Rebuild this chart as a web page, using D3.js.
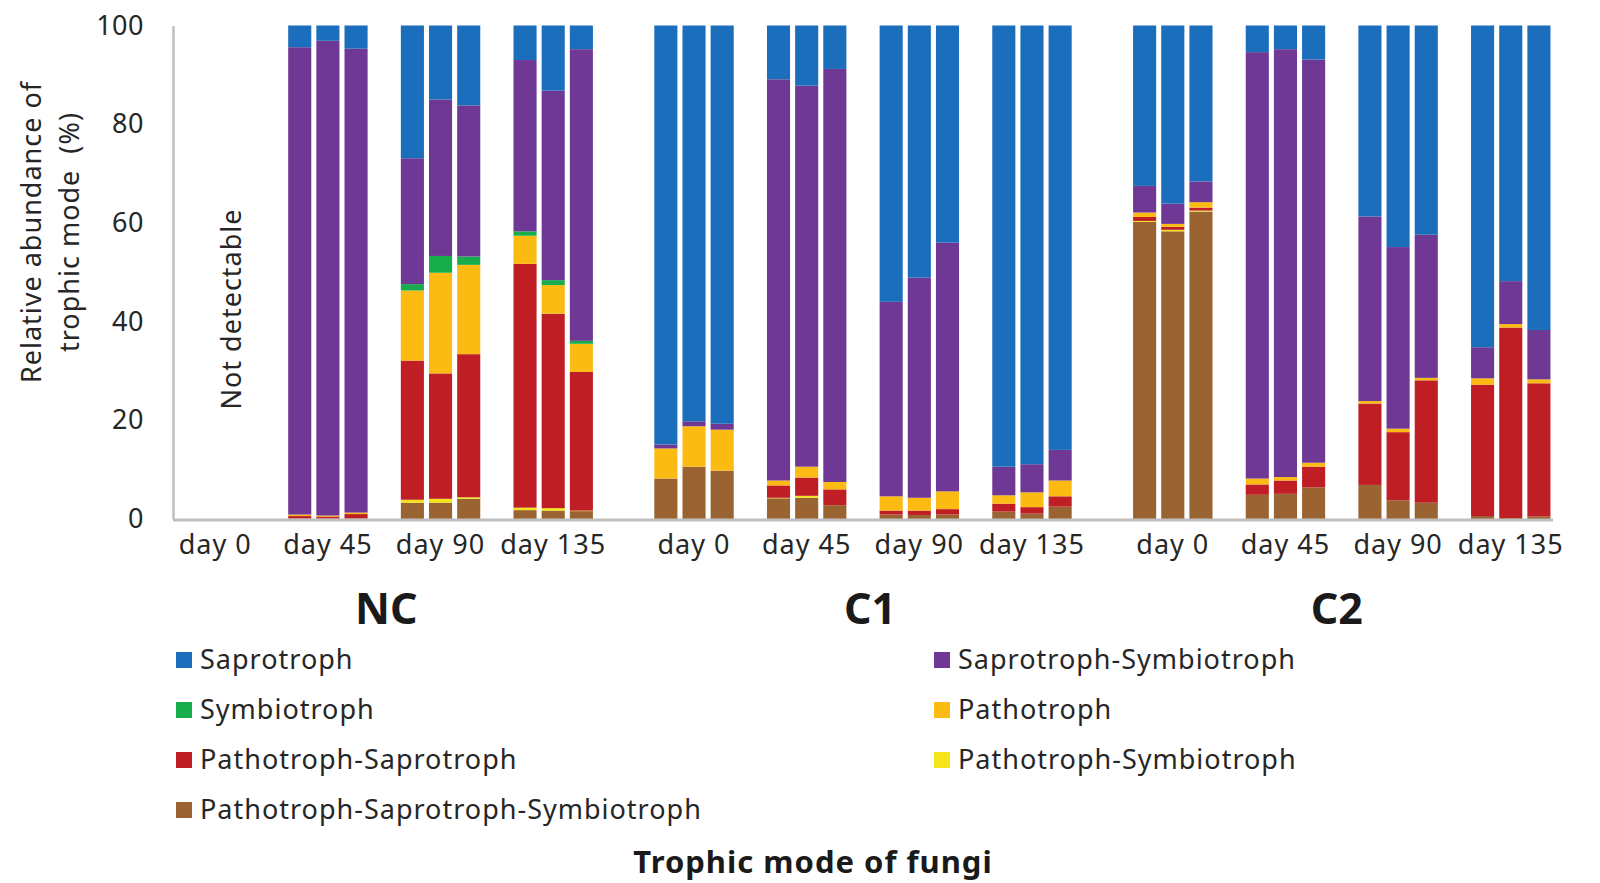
<!DOCTYPE html>
<html><head><meta charset="utf-8">
<script src="https://cdn.jsdelivr.net/npm/d3@7"></script>
<style>body{margin:0;background:#fff}svg{display:block}text{font-family:"Noto Sans",sans-serif;white-space:pre}</style>
</head><body><svg id="c" width="1600" height="883"></svg>
<script>
const groups = ["NC", "C1", "C2"];
const days = ["day 0", "day 45", "day 90", "day 135"];
const replicates = [1, 2, 3];
const seriesNames = ["Pathotroph-Saprotroph-Symbiotroph", "Pathotroph-Symbiotroph", "Pathotroph-Saprotroph", "Pathotroph", "Symbiotroph", "Saprotroph-Symbiotroph", "Saprotroph"];
const legendOrder = ["Saprotroph", "Saprotroph-Symbiotroph", "Symbiotroph", "Pathotroph", "Pathotroph-Saprotroph", "Pathotroph-Symbiotroph", "Pathotroph-Saprotroph-Symbiotroph"];
const colors = ["#996431", "#f3e51a", "#c01e25", "#fbbb12", "#17ad4d", "#6e3894", "#1b6ebb"];
const yTicks = [0, 20, 40, 60, 80, 100];
// values per column: NC d0,d45,d90,d135 | C1 ... | C2 ... , 3 replicates each (null = not detectable)
const pss = [null,null,null, 0.1,0.1,0.1, 3.3,3.3,4.1, 1.8,1.7,1.6,  8.2,10.6,9.8, 4.2,4.3,2.8, 0.9,0.8,0.9, 1.5,1.1,2.5,  60.2,58.3,62.3, 4.9,5.1,6.4, 6.9,3.8,3.3, 0.6,0.2,0.5];
const psym = [null,null,null, 0,0,0, 0.6,0.8,0.3, 0.5,0.5,0.1,  0,0,0, 0.1,0.4,0, 0,0,0, 0,0,0,  0.2,0.3,0.2, 0,0,0, 0,0,0, 0,0,0];
const psap = [null,null,null, 0.5,0.4,0.9, 28.2,25.4,29.0, 49.4,39.4,28.1,  0,0,0, 2.5,3.7,3.2, 0.8,0.9,1.1, 1.6,1.3,2.1,  0.8,0.6,0.6, 2.1,2.7,4.2, 16.5,13.8,24.8, 26.6,38.6,27.0];
const patho = [null,null,null, 0.3,0.2,0.3, 14.2,20.4,18.1, 5.7,5.8,5.7,  6.1,8.2,8.3, 1.0,2.2,1.5, 2.9,2.6,3.6, 1.7,3.0,3.2,  0.9,0.6,1.1, 1.2,0.7,0.8, 0.5,0.7,0.5, 1.3,0.7,0.8];
const symb = [null,null,null, 0,0,0, 1.3,3.4,1.7, 0.9,1.0,0.6,  0,0,0, 0,0,0, 0,0,0, 0,0,0,  0,0,0, 0,0,0, 0,0,0, 0,0,0];
const sapsym = [null,null,null, 94.7,96.2,94.0, 25.5,31.7,30.6, 34.7,38.4,59.1,  0.8,1.0,1.2, 81.3,77.2,83.7, 39.4,44.6,50.4, 5.8,5.7,6.2,  5.4,4.1,4.2, 86.4,86.7,81.7, 37.4,36.8,29.0, 6.3,8.7,10.0];
const sapro = [null,null,null, 4.4,3.1,4.7, 26.9,15.0,16.2, 7.0,13.2,4.8,  84.9,80.2,80.7, 10.9,12.2,8.8, 56.0,51.1,44.0, 89.4,88.9,86.0,  32.5,36.1,31.6, 5.4,4.8,6.9, 38.7,44.9,42.4, 65.2,51.8,61.7];
const seriesValues = [pss, psym, psap, patho, symb, sapsym, sapro];

const rows = [];
groups.forEach((g, gi) => days.forEach((d, di) => replicates.forEach((r, ri) => {
  const idx = gi * 12 + di * 3 + ri;
  const row = {group: g, day: d, rep: r, slot: gi * 17 + di * 4 + ri, empty: pss[idx] === null};
  seriesNames.forEach((s, si) => row[s] = seriesValues[si][idx] || 0);
  rows.push(row);
})));

const svg = d3.select("#c");
const x = d3.scaleBand().domain(d3.range(49)).range([173, 1553]).paddingInner(0.18).paddingOuter(0.09);
const y = d3.scaleLinear().domain([0, 100]).range([519, 25.5]);
const color = d3.scaleOrdinal().domain(seriesNames).range(colors);

const stacked = d3.stack().keys(seriesNames)(rows.filter(r => !r.empty));
svg.append("g").selectAll("g").data(stacked).join("g").attr("fill", d => color(d.key))
  .selectAll("rect").data(d => d).join("rect")
  .attr("x", d => x(d.data.slot)).attr("width", x.bandwidth())
  .attr("y", d => y(d[1])).attr("height", d => Math.max(0, y(d[0]) - y(d[1])));

// axes
const yAxis = svg.append("g").attr("transform", "translate(173,0)")
  .call(d3.axisLeft(y).tickValues(yTicks).tickSize(0).tickPadding(29));
yAxis.select(".domain").attr("stroke", "#bfbfbf").attr("stroke-width", 2.5);
yAxis.selectAll("text").attr("font-size", 27).attr("fill", "#262626").attr("font-family", "Noto Sans").attr("letter-spacing", 0.5);

const xAxis = svg.append("g").attr("transform", "translate(0,520)");
xAxis.append("line").attr("x1", 173).attr("x2", 1553).attr("stroke", "#bfbfbf").attr("stroke-width", 3);
groups.forEach((g, gi) => days.forEach((d, di) => {
  const s = gi * 17 + di * 4 + 1;
  xAxis.append("text").attr("x", x(s) + x.bandwidth() / 2).attr("y", 34)
    .attr("text-anchor", "middle").attr("font-size", 27).attr("letter-spacing", 1).attr("fill", "#262626").text(d);
}));
const groupShift = [2, 7, -5];
groups.forEach((g, gi) => {
  const cx = (x(gi * 17) + x(gi * 17 + 14) + x.bandwidth()) / 2 + groupShift[gi];
  svg.append("text").attr("x", cx).attr("y", 624).attr("text-anchor", "middle")
    .attr("font-size", 43).attr("font-weight", "bold").attr("fill", "#1a1a1a").text(g);
});

// Not detectable
svg.append("text").attr("transform", `translate(${x(1) + x.bandwidth()/2 + 26},309) rotate(-90)`)
  .attr("text-anchor", "middle").attr("font-size", 27).attr("letter-spacing", 1).attr("fill", "#262626").text("Not detectable");

// y title
const yt = svg.append("text").attr("transform", "translate(0,232) rotate(-90)").attr("text-anchor", "middle")
  .attr("font-size", 27).attr("letter-spacing", 1).attr("fill", "#262626");
yt.append("tspan").attr("x", 0).attr("y", 41).text("Relative abundance of");
yt.append("tspan").attr("x", 0).attr("y", 79).text("trophic mode  (%)");

// legend
const legPos = [[176, 660], [934, 660], [176, 710], [934, 710], [176, 760], [934, 760], [176, 810]];
legendOrder.forEach((s, i) => {
  const [lx, ly] = legPos[i];
  svg.append("rect").attr("x", lx).attr("y", ly - 8).attr("width", 16).attr("height", 16).attr("fill", color(s));
  svg.append("text").attr("x", lx + 24).attr("y", ly + 9).attr("font-size", 27).attr("letter-spacing", 1).attr("fill", "#262626").text(s);
});

svg.append("text").attr("x", 813).attr("y", 873).attr("text-anchor", "middle").attr("font-size", 31)
  .attr("font-weight", "bold").attr("letter-spacing", 1).attr("fill", "#1a1a1a").text("Trophic mode of fungi");
</script></body></html>
